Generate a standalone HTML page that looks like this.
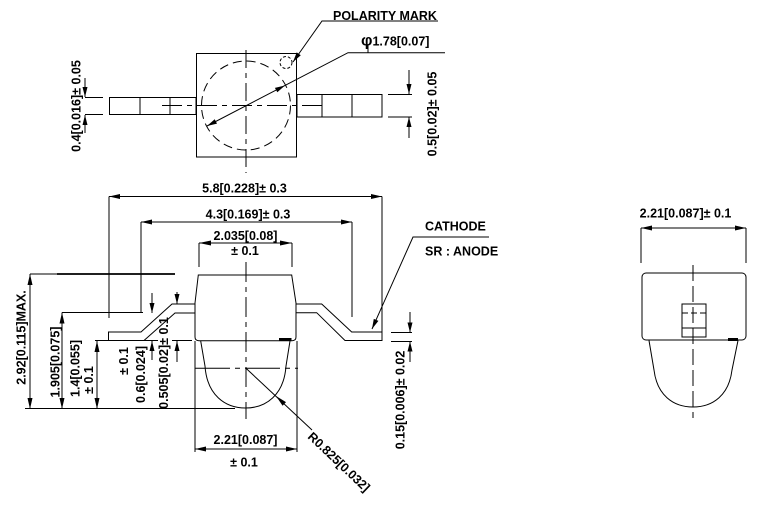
<!DOCTYPE html>
<html><head><meta charset="utf-8"><style>
html,body{margin:0;padding:0;background:#fff;}
svg{display:block;}
text{font-family:"Liberation Sans",Arial,sans-serif;font-weight:bold;font-size:12.5px;fill:#000;}
</style></head><body>
<svg width="762" height="509" viewBox="0 0 762 509" xmlns="http://www.w3.org/2000/svg">
<g fill="none" stroke="#000" stroke-width="1">
<!-- TOP VIEW -->
<rect x="196.5" y="53.5" width="100" height="103.5"/>
<circle cx="246" cy="105.5" r="44.5" stroke-dasharray="9,5"/>
<line x1="246" y1="50" x2="246" y2="173" stroke-dasharray="18,5,5,5"/>
<line x1="162" y1="105.5" x2="322" y2="105.5" stroke-dasharray="20,5,5,5"/>
<rect x="109.5" y="97.5" width="86.5" height="17"/>
<line x1="140" y1="97.5" x2="140" y2="114.5"/>
<line x1="170" y1="97.5" x2="170" y2="114.5"/>
<rect x="297" y="94.5" width="85" height="22.5"/>
<line x1="322" y1="94.5" x2="322" y2="117"/>
<line x1="352" y1="94.5" x2="352" y2="117"/>
<circle cx="286" cy="62.5" r="6" stroke-dasharray="3,2"/>
<polyline points="438,21 322,21 293,62"/>
<polyline points="445,52.7 348,52.7 207,126"/>
<line x1="368" y1="45" x2="368" y2="52.7"/>
<line x1="85" y1="97.5" x2="103" y2="97.5"/>
<line x1="85" y1="114.5" x2="103" y2="114.5"/>
<line x1="85" y1="78" x2="85" y2="97"/>
<line x1="85" y1="115" x2="85" y2="133"/>
<line x1="388" y1="94.5" x2="412" y2="94.5"/>
<line x1="388" y1="117" x2="412" y2="117"/>
<line x1="409" y1="70" x2="409" y2="94"/>
<line x1="409" y1="117" x2="409" y2="138"/>

<!-- SIDE VIEW -->
<line x1="109" y1="196.5" x2="382" y2="196.5"/>
<line x1="109" y1="196.5" x2="109" y2="318"/>
<line x1="382" y1="196.5" x2="382" y2="332"/>
<line x1="141" y1="222" x2="352" y2="222"/>
<line x1="141" y1="222" x2="141" y2="312"/>
<line x1="352" y1="222" x2="352" y2="317"/>
<line x1="199" y1="243" x2="292" y2="243"/>
<line x1="199" y1="243" x2="199" y2="267"/>
<line x1="292" y1="243" x2="292" y2="267"/>
<path d="M198.3,275 L291.7,275 L296,303 L296,337 Q296,340.7 292,340.7 L199,340.7 Q195,340.7 195,337 L195,303 Z"/>
<rect x="279" y="338" width="12.5" height="2.7" fill="#000" stroke="none"/>
<path d="M200.7,341 L205,366 C207,395 225,408 245.5,408 C266,408 284,395 286,366 L290,341"/>
<path d="M195,304 L172,304 L141,332 L108.5,332 L108.5,340.5 L144,340.5 L175,313 L195,313"/>
<path d="M296,304 L321.7,304 L351.7,332 L382,332 L382,340.5 L345,340.5 L316.7,312.7 L296,312.7"/>
<line x1="246" y1="262" x2="246" y2="419" stroke-dasharray="20,5,5,5"/>
<line x1="195" y1="368.3" x2="298" y2="368.3" stroke-dasharray="35,5,5,5"/>
<line x1="195" y1="341" x2="195" y2="452"/>
<line x1="297" y1="341" x2="297" y2="452"/>
<line x1="195" y1="449" x2="297" y2="449"/>
<line x1="246" y1="368.3" x2="312" y2="430"/>
<polyline points="489,237 413,237 372,329"/>
<line x1="391" y1="332.5" x2="412" y2="332.5"/>
<line x1="391" y1="341.5" x2="412" y2="341.5"/>
<line x1="410" y1="312" x2="410" y2="332"/>
<line x1="410" y1="342" x2="410" y2="362"/>
<line x1="30" y1="274" x2="175" y2="274"/>
<line x1="57" y1="274" x2="175" y2="274" stroke-width="1.8"/>
<line x1="25" y1="408.5" x2="235" y2="408.5"/>
<line x1="30" y1="274" x2="30" y2="409"/>
<line x1="62" y1="312.5" x2="143" y2="312.5"/>
<line x1="62" y1="312.5" x2="62" y2="409"/>
<line x1="95" y1="340.5" x2="108" y2="340.5"/>
<line x1="97" y1="341" x2="97" y2="409"/>
<line x1="144" y1="340.5" x2="158" y2="340.5"/>
<line x1="152" y1="293" x2="152" y2="313"/>
<line x1="152" y1="341" x2="152" y2="360"/>
<line x1="172" y1="340.5" x2="192" y2="340.5"/>
<line x1="177" y1="292" x2="177" y2="304"/>
<line x1="177" y1="341" x2="177" y2="362"/>

<!-- RIGHT VIEW -->
<line x1="641" y1="228" x2="746" y2="228"/>
<line x1="641" y1="228" x2="641" y2="263"/>
<line x1="746" y1="228" x2="746" y2="263"/>
<rect x="642" y="273" width="104" height="67" rx="4"/>
<rect x="728" y="338" width="10" height="3" fill="#000" stroke="none"/>
<path d="M649,340.5 L654,370 C657,395 673,407 693,407 C713,407 729,395 732,370 L738,340.5"/>
<line x1="693" y1="265" x2="693" y2="418" stroke-dasharray="16,5"/>
<rect x="682" y="304" width="24" height="33"/>
<line x1="682" y1="328" x2="706" y2="328"/>
<line x1="682" y1="313" x2="706" y2="313" stroke-dasharray="6,3"/>
</g>

<g fill="#000" stroke="none">
<polygon points="85,97 82.5,87 87.5,87"/>
<polygon points="85,115 82.5,125 87.5,125"/>
<polygon points="409,94 406.5,84 411.5,84"/>
<polygon points="409,117 406.5,127 411.5,127"/>
<polygon points="293,62 300.8,55.2 296.7,52.4"/>
<polygon points="285,85.5 277.3,92.3 274.9,87.9"/>
<polygon points="207,126 217,123.6 214.7,119.2"/>
<polygon points="109,196.5 120,194 120,199"/>
<polygon points="382,196.5 371,194 371,199"/>
<polygon points="141,222 152,219.5 152,224.5"/>
<polygon points="352,222 341,219.5 341,224.5"/>
<polygon points="199,243 211,240.5 211,245.5"/>
<polygon points="292,243 280,240.5 280,245.5"/>
<polygon points="372,329 378.4,320.9 373.8,318.9"/>
<polygon points="410,332.5 407.5,322.5 412.5,322.5"/>
<polygon points="410,341.5 407.5,351.5 412.5,351.5"/>
<polygon points="30,274 27.5,285 32.5,285"/>
<polygon points="30,409 27.5,398 32.5,398"/>
<polygon points="62,312.5 59.5,323.5 64.5,323.5"/>
<polygon points="62,409 59.5,398 64.5,398"/>
<polygon points="97,341 94.5,352 99.5,352"/>
<polygon points="97,409 94.5,398 99.5,398"/>
<polygon points="152,313 149.5,303 154.5,303"/>
<polygon points="152,341 149.5,351 154.5,351"/>
<polygon points="177,304 174.5,294 179.5,294"/>
<polygon points="177,341 174.5,351 179.5,351"/>
<polygon points="195,449 206,446.5 206,451.5"/>
<polygon points="297,449 286,446.5 286,451.5"/>
<polygon points="276,396 286,402.1 282.6,405.7"/>
<polygon points="641,228 652,225.5 652,230.5"/>
<polygon points="746,228 735,225.5 735,230.5"/>
</g>

<text x="333" y="20">POLARITY MARK</text>
<text x="361" y="45.5"><tspan font-size="16">φ</tspan>1.78[0.07]</text>
<text transform="translate(80.5,106) rotate(-90)" text-anchor="middle">0.4[0.016]± 0.05</text>
<text transform="translate(436.5,114) rotate(-90)" text-anchor="middle">0.5[0.02]± 0.05</text>
<text x="244.5" y="192.5" text-anchor="middle">5.8[0.228]± 0.3</text>
<text x="248" y="218.5" text-anchor="middle">4.3[0.169]± 0.3</text>
<text x="245.5" y="240" text-anchor="middle">2.035[0.08]</text>
<text x="245" y="255" text-anchor="middle">± 0.1</text>
<text x="425" y="230.7">CATHODE</text>
<text x="425" y="255.5">SR : ANODE</text>
<text x="245.5" y="444" text-anchor="middle">2.21[0.087]</text>
<text x="244" y="466.5" text-anchor="middle">± 0.1</text>
<text transform="translate(336,465) rotate(43.5)" text-anchor="middle">R0.825[0.032]</text>
<text transform="translate(404.5,400) rotate(-90)" text-anchor="middle">0.15[0.006]± 0.02</text>
<text transform="translate(25.5,337.5) rotate(-90)" text-anchor="middle">2.92[0.115]MAX.</text>
<text transform="translate(59.5,362) rotate(-90)" text-anchor="middle">1.905[0.075]</text>
<text transform="translate(79.5,368.5) rotate(-90)" text-anchor="middle">1.4[0.055]</text>
<text transform="translate(93,380) rotate(-90)" text-anchor="middle">± 0.1</text>
<text transform="translate(128,361) rotate(-90)" text-anchor="middle">± 0.1</text>
<text transform="translate(145,374.5) rotate(-90)" text-anchor="middle">0.6[0.024]</text>
<text transform="translate(168,363) rotate(-90)" text-anchor="middle">0.505[0.02]± 0.1</text>
<text x="685.5" y="217.7" text-anchor="middle">2.21[0.087]± 0.1</text>
</svg>
</body></html>
